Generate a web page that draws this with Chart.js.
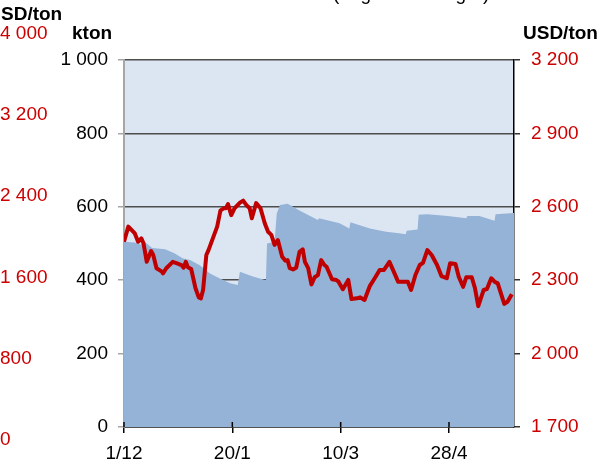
<!DOCTYPE html>
<html>
<head>
<meta charset="utf-8">
<script src="https://cdn.jsdelivr.net/npm/chart.js@4.4.1/dist/chart.umd.min.js"></script>
<style>
 body { margin: 0; background: #fff; }
 #wrap { width: 613px; height: 459px; position: relative; }
</style>
</head>
<body>
<div id="wrap"><canvas id="chart"></canvas></div>
<script>
// x axis: days counted from 1/12
var xTickDays = [0, 50, 100, 150];
var xTickLabels = ['1/12', '20/1', '10/3', '28/4'];

// stocks, kton (left scale)
var stockDays = [0, 5, 7.5, 9.5, 13, 19, 23.5, 27, 30.5, 35, 39.5, 44, 49, 52.5, 53.5, 59.5, 65.5, 66, 69.5, 70.5, 72, 75.5, 81, 89.5, 90, 99.5, 104, 104.5, 113.5, 121, 127, 130, 130.5, 135.5, 136, 140, 149.5, 158, 158.5, 164, 171, 171.5, 180];
var stockKton = [505, 503, 497, 505, 488, 484, 473, 460, 455, 441, 419, 405, 392, 387, 423, 410, 400, 500, 505, 582, 605, 608, 590, 564, 569, 555, 541, 558, 541, 532, 528, 525, 535, 538, 578, 580, 575, 569, 575, 575, 562, 580, 583];

// price, USD/ton (right scale)
var priceDays = [0, 2, 5, 6.5, 8, 9, 10.5, 12.5, 13.5, 15, 17.5, 18, 19.5, 22.5, 24.5, 26.5, 27.5, 28.5, 29.5, 31, 33, 34.5, 35.5, 36.5, 38, 39, 43, 44.5, 46, 47, 48, 49.5, 51, 53.5, 55, 56.5, 58, 59, 61, 63, 65, 66.5, 68, 69.5, 71, 73, 74.5, 75.5, 76.5, 78, 79.5, 81, 82.5, 83.5, 85, 86.5, 88, 89.5, 91, 92.5, 93.5, 96, 98, 99, 101, 103.5, 105, 107.5, 109, 111, 113.5, 116, 118, 120, 122.5, 124.5, 126.5, 129, 131, 132.5, 134.5, 136.5, 138, 140, 142, 144.5, 146.5, 149, 150.5, 153, 154.5, 156.5, 158, 160.5, 162, 163.5, 166, 167.5, 169.5, 171, 172.5, 175.5, 177, 179];
var priceUsd = [2457, 2519, 2491, 2457, 2471, 2451, 2375, 2419, 2403, 2349, 2335, 2328, 2349, 2375, 2369, 2362, 2351, 2375, 2353, 2346, 2267, 2230, 2226, 2260, 2403, 2423, 2519, 2584, 2594, 2594, 2611, 2566, 2594, 2617, 2625, 2607, 2594, 2553, 2615, 2594, 2532, 2498, 2485, 2444, 2464, 2396, 2380, 2382, 2349, 2344, 2351, 2416, 2426, 2375, 2349, 2283, 2312, 2321, 2382, 2362, 2355, 2304, 2301, 2294, 2263, 2301, 2223, 2226, 2230, 2219, 2277, 2312, 2342, 2342, 2375, 2335, 2294, 2294, 2294, 2260, 2321, 2362, 2371, 2423, 2403, 2362, 2317, 2308, 2369, 2366, 2314, 2273, 2312, 2312, 2267, 2194, 2260, 2264, 2308, 2294, 2287, 2203, 2212, 2243];

// leftover labels of the neighbouring chart at the left edge
var ghostTickLabels = ['4 000', '3 200', '2 400', '1 600', '800', '0'];

var RED = '#CC0000';
var FONT = '"Liberation Sans", Arial, sans-serif';

function fmt(v) {
  return String(v).replace(/\B(?=(\d{3})+(?!\d))/g, ' ');
}
function pairs(xs, ys) {
  var out = [];
  for (var i = 0; i < xs.length; i++) out.push({ x: xs[i], y: ys[i] });
  return out;
}

var bgPlugin = {
  id: 'plotBg',
  beforeDraw: function(chart) {
    var a = chart.chartArea, c = chart.ctx;
    c.save();
    c.fillStyle = '#DCE6F2';
    c.fillRect(a.left, a.top, a.right - a.left, a.bottom - a.top);
    c.restore();
  }
};

var textPlugin = {
  id: 'texts',
  afterDraw: function(chart) {
    var c = chart.ctx, a = chart.chartArea, sx = chart.scales.x;
    c.save();
    // x ticks cross the axis line
    c.strokeStyle = '#000';
    c.lineWidth = 1.5;
    xTickDays.forEach(function(d) {
      var px = sx.getPixelForValue(d);
      c.beginPath();
      c.moveTo(px, a.bottom - 5);
      c.lineTo(px, a.bottom);
      c.stroke();
    });
    c.textBaseline = 'middle';
    c.fillStyle = '#000';
    c.font = 'bold 19px ' + FONT;
    c.textAlign = 'left';
    c.fillText('SD/ton', 1, 15);
    c.fillText('kton', 72, 34);
    c.fillText('USD/ton', 523, 34);
    // cut-off title
    c.font = '19px ' + FONT;
    c.textBaseline = 'alphabetic';
    c.fillText('(Lager kurs höger)', 333, 0);
    c.textBaseline = 'middle';
    c.fillStyle = RED;
    for (var i = 0; i < ghostTickLabels.length; i++) {
      c.fillText(ghostTickLabels[i], 0, 33.5 + i * 81.3);
    }
    c.restore();
  }
};

Chart.defaults.font.family = FONT;
Chart.defaults.font.size = 19;
Chart.defaults.color = '#000';

new Chart(document.getElementById('chart'), {
  type: 'line',
  data: {
    datasets: [
      {
        label: 'USD/ton',
        data: pairs(priceDays, priceUsd),
        yAxisID: 'y2',
        borderColor: '#C00000',
        borderWidth: 4,
        borderJoinStyle: 'round',
        pointRadius: 0,
        tension: 0,
        fill: false,
        order: 0
      },
      {
        label: 'kton',
        data: pairs(stockDays, stockKton),
        yAxisID: 'y',
        backgroundColor: '#95B3D7',
        borderColor: 'rgba(0,0,0,0)',
        borderWidth: 0,
        pointRadius: 0,
        tension: 0,
        fill: 'origin',
        order: 1
      }
    ]
  },
  options: {
    responsive: true,
    maintainAspectRatio: false,
    animation: false,
    layout: { padding: { top: 60, left: 0, right: 0, bottom: 0 } },
    plugins: { legend: { display: false }, tooltip: { enabled: false } },
    scales: {
      x: {
        type: 'linear',
        min: 0,
        max: 180,
        z: 1,
        afterBuildTicks: function(s) {
          s.ticks = xTickDays.map(function(v) { return { value: v }; });
        },
        afterFit: function(s) { s.height = 32; },
        ticks: {
          autoSkip: false,
          maxRotation: 0,
          padding: 9,
          callback: function(v, i) { return xTickLabels[i]; }
        },
        grid: { drawOnChartArea: false, tickLength: 6, tickColor: '#000', lineWidth: 1.5 },
        border: { color: '#000', width: 1.5 }
      },
      y: {
        position: 'left',
        min: 0,
        max: 1000,
        afterFit: function(s) { s.width = 124; },
        ticks: { stepSize: 200, padding: 10, callback: function(v) { return fmt(v); } },
        grid: { color: '#4D4D4D', lineWidth: 1.5, tickColor: '#A6A6A6', tickLength: 6 },
        border: { color: '#A6A6A6', width: 2 }
      },
      y2: {
        position: 'right',
        min: 1700,
        max: 3200,
        z: 1,
        afterFit: function(s) { s.width = 99; },
        ticks: { stepSize: 300, padding: 11, color: RED, callback: function(v) { return fmt(v); } },
        grid: { drawOnChartArea: false, tickLength: 6, tickColor: '#333', lineWidth: 1.5 },
        border: { color: '#000', width: 1.5 }
      }
    }
  },
  plugins: [bgPlugin, textPlugin]
});
</script>
</body>
</html>
